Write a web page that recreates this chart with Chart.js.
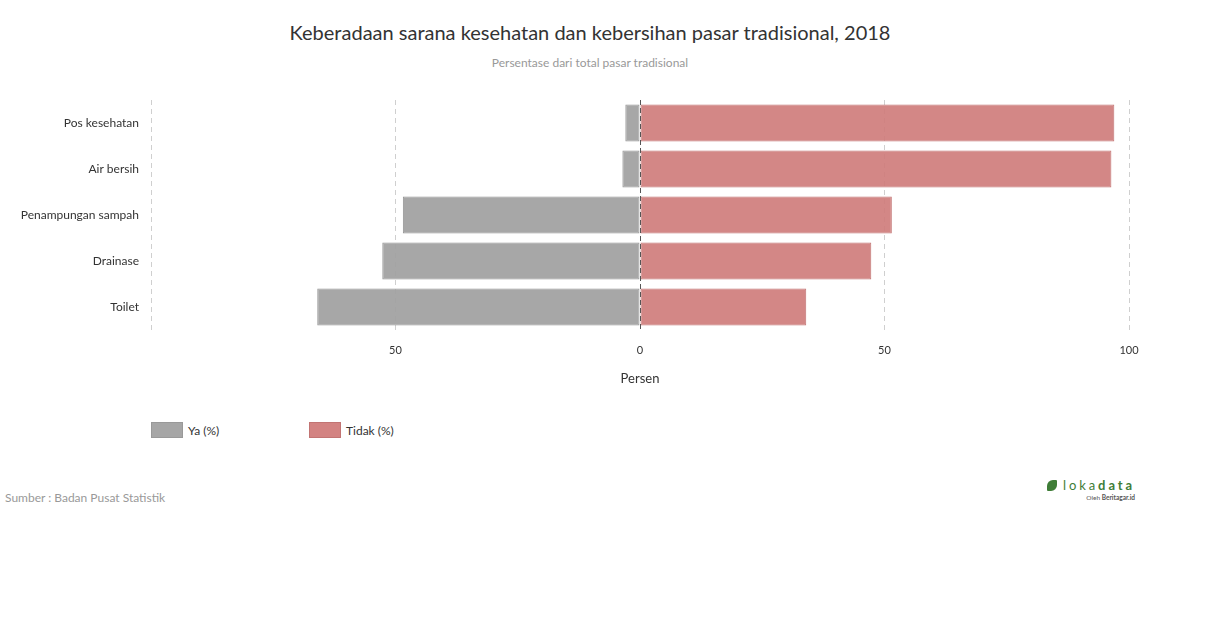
<!DOCTYPE html>
<html>
<head>
<meta charset="utf-8">
<script src="https://cdn.jsdelivr.net/npm/chart.js@4/dist/chart.umd.min.js"></script>
<style>
  body { margin: 0; width: 1210px; height: 628px; background: #fff; font-family: Lato, sans-serif; position: relative; overflow: hidden; }
  .title { position: absolute; top: 20px; left: 0; width: 1180px; text-align: center; font-size: 20px; color: #333; }
  .subtitle { position: absolute; top: 55px; left: 0; width: 1180px; text-align: center; font-size: 12px; color: #999; }
  .chart-wrap { position: absolute; left: 0; top: 0; width: 1210px; height: 400px; }
  .legend { position: absolute; top: 422px; left: 151px; font-size: 12px; color: #333; }
  .legend .item { position: absolute; top: 0; white-space: nowrap; }
  .legend .box { display: inline-block; width: 30px; height: 14px; vertical-align: top; margin-right: 5px; }
  .legend span.txt { line-height: 17px; vertical-align: top; }
  .source { position: absolute; left: 5px; top: 490px; font-size: 12px; color: #999; }
  .logo { position: absolute; left: 1047px; top: 477px; width: 89px; height: 28px; color: #3f7d37; }
  .logo .name { position: absolute; left: 0; top: 0; font-size: 13px; line-height: 16px; letter-spacing: 2.9px; white-space: nowrap; }
  .logo .name b { font-weight: bold; }
  .logo .leaf { display: inline-block; width: 10px; height: 11px; background: #3f7d37; border-radius: 6px 1px 6px 1px; vertical-align: -1px; margin-right: 6px; }
  .logo .by { position: absolute; right: 1px; top: 17px; font-size: 6.5px; line-height: 8px; color: #555; white-space: nowrap; }
</style>
</head>
<body>
<div class="title">Keberadaan sarana kesehatan dan kebersihan pasar tradisional, 2018</div>
<div class="subtitle">Persentase dari total pasar tradisional</div>
<div class="chart-wrap"><canvas id="chart"></canvas></div>
<div class="legend">
  <div class="item" style="left:0"><span class="box" style="background:#a6a6a6;border:1px solid #999"></span><span class="txt">Ya (%)</span></div>
  <div class="item" style="left:158px"><span class="box" style="background:#d38382;border:1px solid #c27473"></span><span class="txt">Tidak (%)</span></div>
</div>
<div class="source">Sumber : Badan Pusat Statistik</div>
<div class="logo"><div class="name"><span class="leaf"></span>loka<b>data</b></div><div class="by">Oleh <b>Beritagar.id</b></div></div>

<script>
const categories = ['Pos kesehatan', 'Air bersih', 'Penampungan sampah', 'Drainase', 'Toilet'];
const yaValues = [3.0, 3.6, 48.5, 52.7, 66.0];
const tidakValues = [97.0, 96.4, 51.5, 47.3, 34.0];
const xTicks = [-100, -50, 0, 50, 100];

// zero line drawn on top of the bars
const zeroLine = {
  id: 'zeroLine',
  afterDatasetsDraw(chart) {
    const x = chart.scales.x.getPixelForValue(0);
    const area = chart.chartArea;
    const ctx = chart.ctx;
    ctx.save();
    ctx.strokeStyle = '#555';
    ctx.lineWidth = 1;
    ctx.setLineDash([5, 3]);
    ctx.beginPath();
    ctx.moveTo(Math.round(x) + 0.5, area.top);
    ctx.lineTo(Math.round(x) + 0.5, area.bottom);
    ctx.stroke();
    ctx.restore();
  }
};

new Chart(document.getElementById('chart'), {
  type: 'bar',
  data: {
    labels: categories,
    datasets: [
      {
        label: 'Ya (%)',
        data: yaValues.map(v => -v),
        backgroundColor: 'rgba(160,160,160,0.93)',
        borderColor: '#939393',
        borderWidth: 1,
        borderSkipped: false
      },
      {
        label: 'Tidak (%)',
        data: tidakValues,
        backgroundColor: 'rgba(206,122,121,0.9)',
        borderColor: '#c27473',
        borderWidth: 1,
        borderSkipped: false
      }
    ]
  },
  options: {
    indexAxis: 'y',
    responsive: true,
    maintainAspectRatio: false,
    animation: false,
    categoryPercentage: 0.8,
    barPercentage: 1,
    layout: { padding: { top: 100, right: 81, left: 0, bottom: 0 } },
    plugins: {
      legend: { display: false },
      tooltip: { enabled: false }
    },
    scales: {
      x: {
        stacked: true,
        min: -100,
        max: 100,
        afterBuildTicks(scale) {
          scale.ticks = xTicks.map(v => ({ value: v }));
        },
        afterFit(scale) { scale.height = 70; },
        border: { display: false, dash: [5, 4] },
        grid: {
          drawTicks: false,
          color: ctx => ctx.tick && ctx.tick.value === 0 ? 'rgba(0,0,0,0)' : '#cfcfcf'
        },
        ticks: {
          padding: 14,
          color: '#333',
          font: { family: 'Lato', size: 11 },
          callback: v => v === -100 ? '' : Math.abs(v)
        },
        title: {
          display: true,
          text: 'Persen',
          color: '#333',
          font: { family: 'Lato', size: 13 },
          padding: { top: 0, bottom: 13 }
        }
      },
      y: {
        stacked: true,
        afterFit(scale) { scale.width = 151; },
        border: { display: false },
        grid: { display: false },
        ticks: {
          padding: 4,
          color: '#333',
          font: { family: 'Lato', size: 12 }
        }
      }
    }
  },
  plugins: [zeroLine]
});
</script>
</body>
</html>
